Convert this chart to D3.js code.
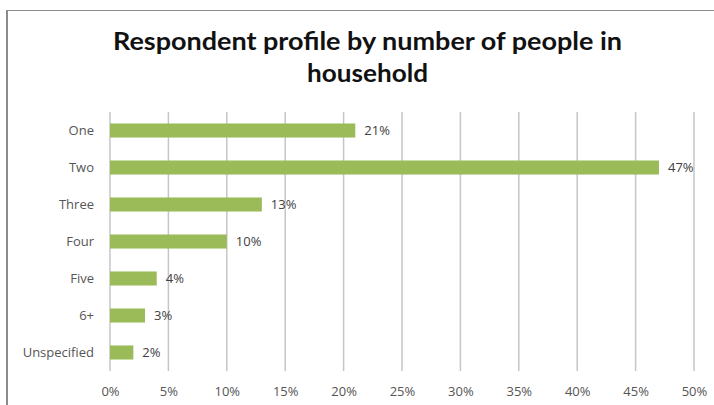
<!DOCTYPE html>
<html>
<head>
<meta charset="utf-8">
<script src="https://cdn.jsdelivr.net/npm/d3@7"></script>
<style>
  html, body { margin: 0; padding: 0; background: #fff; }
  svg { display: block; }
</style>
</head>
<body>
<svg id="chart" width="714" height="405"></svg>
<script>
// Household size categories and share of respondents (%)
const categories = ["One", "Two", "Three", "Four", "Five", "6+", "Unspecified"];
const shares = [21, 47, 13, 10, 4, 3, 2];
const tickValues = [0, 5, 10, 15, 20, 25, 30, 35, 40, 45, 50];
const titleLines = ["Respondent profile by number of people in", "household"];

const svg = d3.select("#chart");
const font = "'Open Sans', 'Noto Sans', sans-serif";
const titleFont = "Lato, 'Open Sans', sans-serif";

const plot = { left: 110, right: 694, top: 112, bottom: 371 };

const x = d3.scaleLinear().domain([0, 50]).range([plot.left, plot.right]);
const y = d3.scaleBand().domain(categories).range([plot.top, plot.bottom]).paddingInner(0.62).paddingOuter(0.31);

// chart frame (top and left edges)
svg.append("line").attr("x1", 7).attr("x2", 714).attr("y1", 10.5).attr("y2", 10.5)
  .attr("stroke", "#8c8c8c").attr("stroke-width", 1.2);
svg.append("line").attr("x1", 7).attr("x2", 7).attr("y1", 10).attr("y2", 405)
  .attr("stroke", "#8c8c8c").attr("stroke-width", 2);

// title
const title = svg.append("g");
titleLines.forEach((t, i) => {
  title.append("text")
    .attr("x", 367.5).attr("y", 50 + i * 32)
    .attr("text-anchor", "middle")
    .attr("font-family", titleFont).attr("font-weight", 700)
    .attr("font-size", 25).attr("fill", "#111")
    .attr("textLength", i === 0 ? 509 : 121).attr("lengthAdjust", "spacingAndGlyphs")
    .text(t);
});

// vertical gridlines
svg.append("g").selectAll("line").data(tickValues).join("line")
  .attr("x1", d => x(d)).attr("x2", d => x(d))
  .attr("y1", plot.top).attr("y2", plot.bottom)
  .attr("stroke", "#c6c6c6").attr("stroke-width", 1.5);

// x axis labels
const xAxis = d3.axisBottom(x).tickValues(tickValues).tickSize(0).tickPadding(0)
  .tickFormat(d => d + "%");
const gx = svg.append("g").attr("transform", `translate(0,${plot.bottom + 16})`).call(xAxis);
gx.select(".domain").remove();
gx.selectAll("text").attr("font-family", font).attr("font-size", 13).attr("fill", "#555");

// y axis labels
const yAxis = d3.axisLeft(y).tickSize(0).tickPadding(0);
const gy = svg.append("g").attr("transform", `translate(${plot.left - 16},0)`).call(yAxis);
gy.select(".domain").remove();
gy.selectAll("text").attr("font-family", font).attr("font-size", 13).attr("fill", "#555");

// bars
const rows = categories.map((c, i) => ({ c, v: shares[i] }));
svg.append("g").selectAll("rect").data(rows).join("rect")
  .attr("x", x(0))
  .attr("y", d => y(d.c))
  .attr("width", d => x(d.v) - x(0))
  .attr("height", y.bandwidth())
  .attr("fill", "#9bbb59");

// value labels
svg.append("g").selectAll("text").data(rows).join("text")
  .attr("x", d => x(d.v) + 9)
  .attr("y", d => y(d.c) + y.bandwidth() / 2)
  .attr("dy", "0.35em")
  .attr("font-family", font).attr("font-size", 13).attr("fill", "#404040")
  .text(d => d.v + "%");
</script>
</body>
</html>
